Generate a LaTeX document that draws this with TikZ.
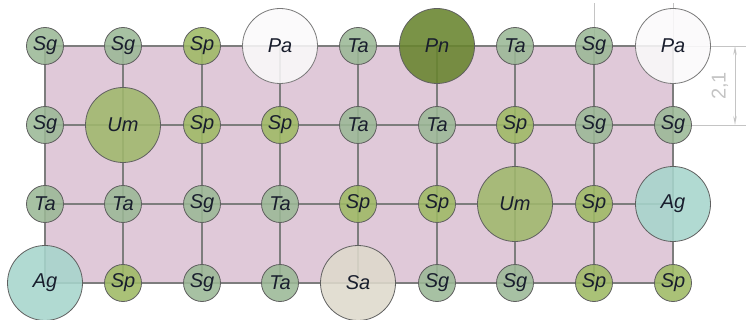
\documentclass[tikz,border=0pt]{standalone}
\usepackage{fontspec}
\setmainfont{Liberation Sans}
\usetikzlibrary{arrows.meta}
\definecolor{bgpink}{RGB}{224,201,217}
\definecolor{cSg}{RGB}{155,184,150}
\definecolor{cSp}{RGB}{158,186,100}
\definecolor{cUm}{RGB}{160,184,108}
\definecolor{cPn}{RGB}{104,132,46}
\definecolor{cPa}{RGB}{250,249,250}
\definecolor{cAg}{RGB}{166,213,204}
\definecolor{cSa}{RGB}{222,218,204}
\definecolor{gridc}{RGB}{125,125,125}
\definecolor{dimc}{RGB}{196,196,196}
\definecolor{txt}{RGB}{25,30,45}
\tikzset{
  x=1pt, y=-1pt,
  plant/.style={circle, draw={rgb,255:red,95;green,95;blue,95}, line width=0.8pt,
    fill opacity=0.88, text opacity=1, inner sep=0pt,
    font=\fontsize{20}{20}\selectfont\itshape, text=txt},
  small/.style={plant, minimum size=37pt},
  big/.style={plant, minimum size=75pt},
  Sg/.style={small, fill=cSg},
  Ta/.style={small, fill=cSg},
  Sp/.style={small, fill=cSp},
  Um/.style={big, fill=cUm},
  Pn/.style={big, fill=cPn},
  Pa/.style={big, fill=cPa, draw={rgb,255:red,120;green,120;blue,120}},
  Ag/.style={big, fill=cAg},
  Sa/.style={big, fill=cSa},
  gridline/.style={draw=gridc, line width=1.1pt},
  dimline/.style={draw=dimc, line width=0.8pt},
}
\begin{document}
\begin{tikzpicture}
\useasboundingbox (0,0) rectangle (746,320);
% grid coordinates
\foreach \x [count=\i] in {45,123,202,280,358,437,515,594,673}{
  \foreach \y [count=\j] in {46,125,204,283}{
    \coordinate (c-\j-\i) at (\x,\y);
  }
}
\fill[bgpink] (c-1-1) rectangle (c-4-9);
\foreach \j in {1,...,4}{ \draw[gridline] (c-\j-1) -- (c-\j-9); }
\foreach \i in {1,...,9}{ \draw[gridline] (c-1-\i) -- (c-4-\i); }
% dimension
\coordinate (e1) at (746,46);
\coordinate (e2) at (746,125);
\coordinate (d1) at (735,46);
\coordinate (d2) at (735,125);
\coordinate (t8) at (594,3);
\coordinate (t9) at (673,3);
\draw[dimline] (c-1-9) -- (e1);
\draw[dimline] (c-2-9) -- (e2);
\draw[dimline] (c-1-8) -- (t8);
\draw[dimline] (c-1-9) -- (t9);
\draw[dimline, {Stealth[length=9pt,width=3.5pt,open]}-{Stealth[length=9pt,width=3.5pt,open]}] (d1) -- (d2);
\node[rotate=90, text=dimc, font=\fontsize{20}{20}\selectfont] (dimtext) at (720,86) {2,1};
% plants
\foreach \t [count=\i] in {Sg,Sg,Sp,Pa,Ta,Pn,Ta,Sg,Pa}{ \node[\t] (n-1-\i) at (c-1-\i) {\t}; }
\foreach \t [count=\i] in {Sg,Um,Sp,Sp,Ta,Ta,Sp,Sg,Sg}{ \node[\t] (n-2-\i) at (c-2-\i) {\t}; }
\foreach \t [count=\i] in {Ta,Ta,Sg,Ta,Sp,Sp,Um,Sp,Ag}{ \node[\t] (n-3-\i) at (c-3-\i) {\t}; }
\foreach \t [count=\i] in {Ag,Sp,Sg,Ta,Sa,Sg,Sg,Sp,Sp}{ \node[\t] (n-4-\i) at (c-4-\i) {\t}; }
\end{tikzpicture}
\end{document}
